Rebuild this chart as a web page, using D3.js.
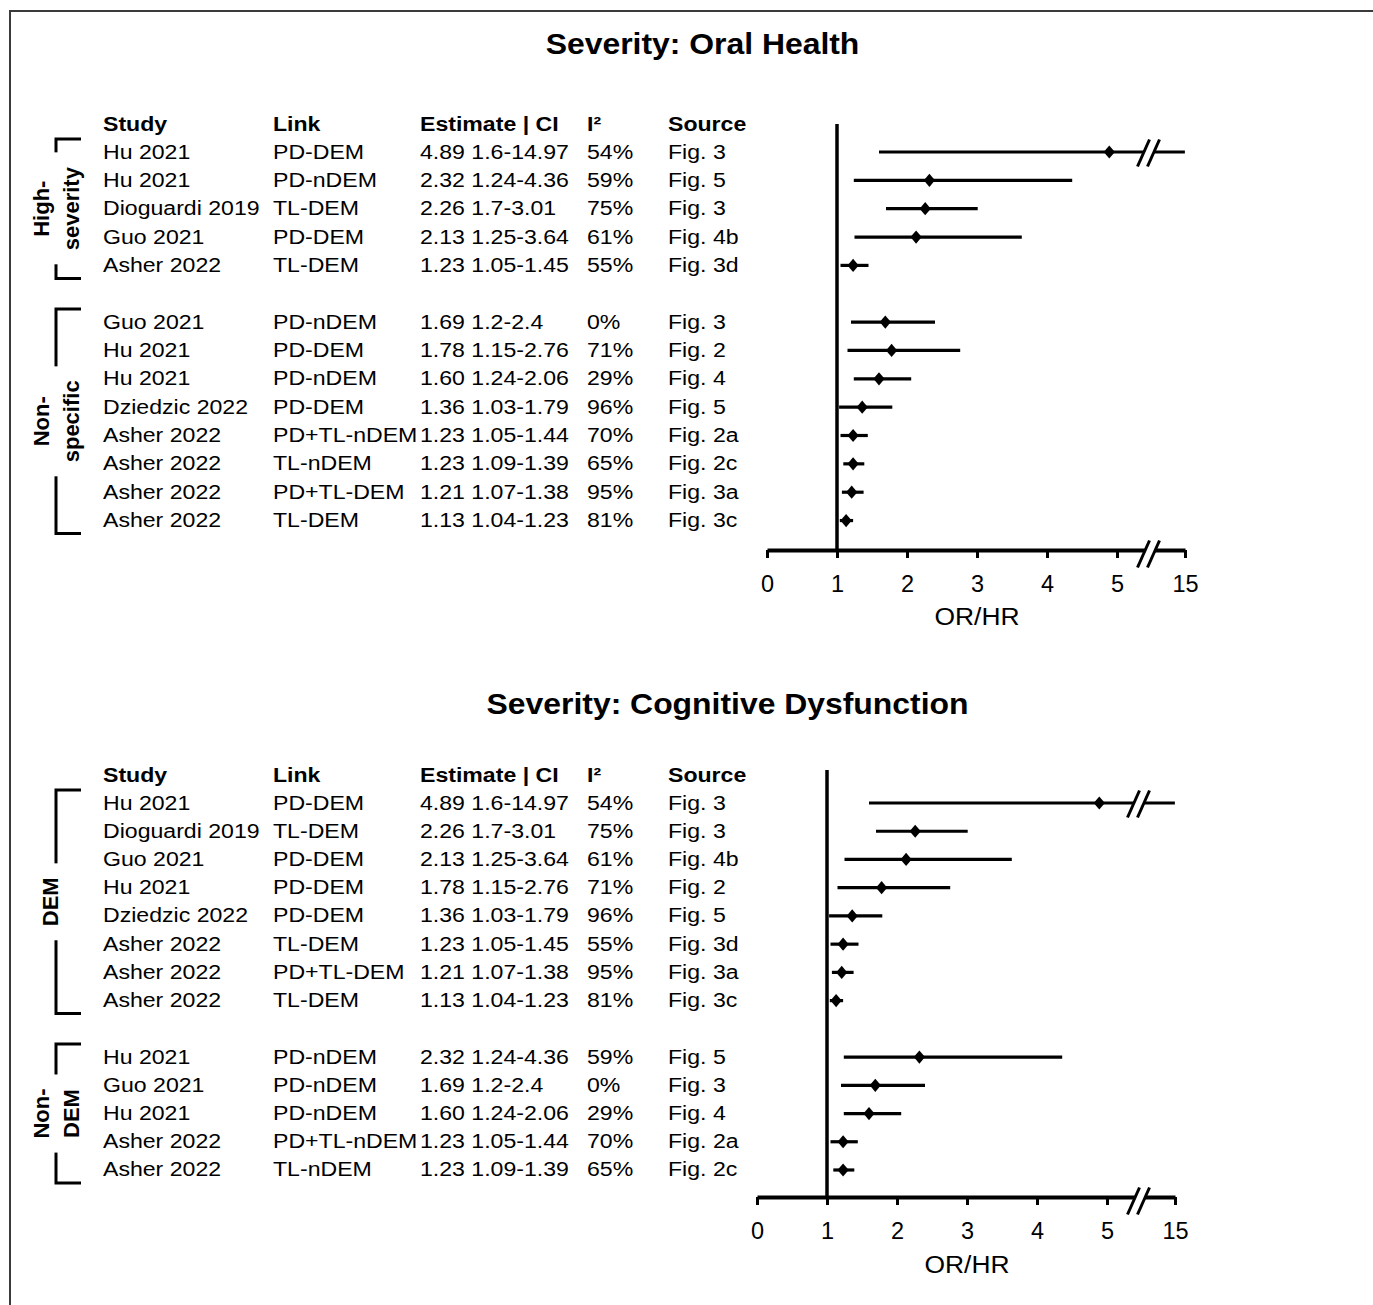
<!DOCTYPE html>
<html><head><meta charset="utf-8">
<script src="https://cdn.jsdelivr.net/npm/d3@7"></script>
<style>
body{margin:0;background:#fff}
svg{display:block}
text{font-family:"Liberation Sans",Arial,Helvetica,sans-serif;fill:#000}
</style>
</head><body>
<svg id="c" width="1373" height="1305"></svg>
<script>
// ---------- Data ----------
const oralStudy = ["Hu 2021","Hu 2021","Dioguardi 2019","Guo 2021","Asher 2022","Guo 2021","Hu 2021","Hu 2021","Dziedzic 2022","Asher 2022","Asher 2022","Asher 2022","Asher 2022"];
const oralLink = ["PD-DEM","PD-nDEM","TL-DEM","PD-DEM","TL-DEM","PD-nDEM","PD-DEM","PD-nDEM","PD-DEM","PD+TL-nDEM","TL-nDEM","PD+TL-DEM","TL-DEM"];
const oralEstimate = [4.89,2.32,2.26,2.13,1.23,1.69,1.78,1.60,1.36,1.23,1.23,1.21,1.13];
const oralLower = [1.6,1.24,1.7,1.25,1.05,1.2,1.15,1.24,1.03,1.05,1.09,1.07,1.04];
const oralUpper = [14.97,4.36,3.01,3.64,1.45,2.4,2.76,2.06,1.79,1.44,1.39,1.38,1.23];
const oralI2 = [54,59,75,61,55,0,71,29,96,70,65,95,81];
const oralSource = ["Fig. 3","Fig. 5","Fig. 3","Fig. 4b","Fig. 3d","Fig. 3","Fig. 2","Fig. 4","Fig. 5","Fig. 2a","Fig. 2c","Fig. 3a","Fig. 3c"];
const oralGroups = [["High-","severity"],["Non-","specific"]];
const oralGroupSizes = [5,8];

const cogStudy = ["Hu 2021","Dioguardi 2019","Guo 2021","Hu 2021","Dziedzic 2022","Asher 2022","Asher 2022","Asher 2022","Hu 2021","Guo 2021","Hu 2021","Asher 2022","Asher 2022"];
const cogLink = ["PD-DEM","TL-DEM","PD-DEM","PD-DEM","PD-DEM","TL-DEM","PD+TL-DEM","TL-DEM","PD-nDEM","PD-nDEM","PD-nDEM","PD+TL-nDEM","TL-nDEM"];
const cogEstimate = [4.89,2.26,2.13,1.78,1.36,1.23,1.21,1.13,2.32,1.69,1.60,1.23,1.23];
const cogLower = [1.6,1.7,1.25,1.15,1.03,1.05,1.07,1.04,1.24,1.2,1.24,1.05,1.09];
const cogUpper = [14.97,3.01,3.64,2.76,1.79,1.45,1.38,1.23,4.36,2.4,2.06,1.44,1.39];
const cogI2 = [54,75,61,71,96,55,95,81,59,0,29,70,65];
const cogSource = ["Fig. 3","Fig. 3","Fig. 4b","Fig. 2","Fig. 5","Fig. 3d","Fig. 3a","Fig. 3c","Fig. 5","Fig. 3","Fig. 4","Fig. 2a","Fig. 2c"];
const cogGroups = [["DEM"],["Non-","DEM"]];
const cogGroupSizes = [8,5];

const headers = ["Study","Link","Estimate | CI","I\u00B2","Source"];
const axisTicks = [0,1,2,3,4,5,15];
const axisBreak = 5.45;
const axisMax = 15;
const axisTitle = "OR/HR";

// ---------- Drawing ----------
const svg = d3.select("#c");
svg.append("rect").attr("x",10).attr("y",11).attr("width",1500).attr("height",1500)
  .attr("fill","none").attr("stroke","#3a3a3a").attr("stroke-width",2);

const colX = [103, 273, 420, 587, 668];
const SX = 1.1;

function txt(g, x, y, s, size, bold, anchor){
  return g.append("text")
    .attr("transform",`translate(${x},${y}) scale(${SX},1)`)
    .attr("font-size",size)
    .attr("font-weight",bold?"bold":"normal")
    .attr("text-anchor",anchor||"start")
    .text(s);
}

const diamond = {
  draw(ctx, size){
    const w = 5.6, h = 6.6;
    ctx.moveTo(0,-h); ctx.lineTo(w,0); ctx.lineTo(0,h); ctx.lineTo(-w,0); ctx.closePath();
  }
};

function breakMark(g, cx, cy){
  const dx = 6, dy = 13.5, sep = 10;
  const a = cx - sep/2, b = cx + sep/2;
  g.append("path")
    .attr("d",`M${a-dx},${cy+dy}L${a+dx},${cy-dy}L${b+dx},${cy-dy}L${b-dx},${cy+dy}Z`)
    .attr("fill","#fff");
  [a,b].forEach(c=>{
    g.append("line").attr("x1",c-dx).attr("y1",cy+dy).attr("x2",c+dx).attr("y2",cy-dy)
      .attr("stroke","#000").attr("stroke-width",3);
  });
}

function panel(cfg){
  const g = svg.append("g");
  const n = cfg.study.length;
  const rowIdx = [];
  let k = 0;
  cfg.groupSizes.forEach((sz)=>{
    for(let i=0;i<sz;i++) rowIdx.push(k++);
    k++;
  });
  const y = d3.scaleLinear().domain([0,1]).range([cfg.rowY0, cfg.rowY0 + cfg.rowStep]);
  const x = d3.scaleLinear().domain([0, axisBreak, axisMax])
    .range([cfg.x0, cfg.x0 + axisBreak*cfg.unit, cfg.x0 + cfg.span]);

  txt(g, cfg.titleX, cfg.titleY, cfg.title, 29, true, "middle");

  headers.forEach((h,i)=> txt(g, colX[i], cfg.rowY0 - 21, h, 21, true));

  for(let i=0;i<n;i++){
    const yy = y(rowIdx[i]) + 6.5;
    txt(g, colX[0], yy, cfg.study[i], 21, false);
    txt(g, colX[1], yy, cfg.link[i], 21, false);
    txt(g, colX[2], yy, `${cfg.est[i].toFixed(2)} ${cfg.lo[i]}-${cfg.hi[i]}`, 21, false);
    txt(g, colX[3], yy, `${cfg.i2[i]}%`, 21, false);
    txt(g, colX[4], yy, cfg.src[i], 21, false);
  }

  let start = 0;
  cfg.groupSizes.forEach((sz,gi)=>{
    const top = y(rowIdx[start]) - 13;
    const bot = y(rowIdx[start+sz-1]) + 13;
    const bx = 56, tx = 81;
    g.append("path").attr("d",`M${tx},${top}H${bx}V${bot}H${tx}`)
      .attr("fill","none").attr("stroke","#000").attr("stroke-width",3);
    const mid = (top+bot)/2;
    const lg = g.append("g").attr("transform",`translate(${bx},${mid}) rotate(-90)`);
    const bg = lg.append("rect").attr("fill","#fff");
    const lines = cfg.groups[gi];
    const offs = lines.length === 2 ? [-7, 23] : [2];
    const tg = lg.append("g");
    lines.forEach((l,li)=>{
      tg.append("text").attr("x",0).attr("y",offs[li]).attr("text-anchor","middle")
        .attr("font-size",22).attr("font-weight","bold").text(l);
    });
    const bb = tg.node().getBBox();
    bg.attr("x",bb.x-14).attr("width",bb.width+28).attr("y",-5).attr("height",10);
    start += sz;
  });

  g.append("line").attr("x1",x(1)).attr("x2",x(1)).attr("y1",cfg.vTop).attr("y2",cfg.axisY)
    .attr("stroke","#000").attr("stroke-width",3.5);

  for(let i=0;i<n;i++){
    const yy = y(rowIdx[i]);
    g.append("line").attr("x1",x(cfg.lo[i])).attr("x2",x(cfg.hi[i])).attr("y1",yy).attr("y2",yy)
      .attr("stroke","#000").attr("stroke-width",3.2);
    if(cfg.hi[i] > axisBreak) breakMark(g, x(axisBreak), yy+1);
    g.append("path").attr("d", d3.symbol().type(diamond).size(64)())
      .attr("transform",`translate(${x(cfg.est[i])},${yy})`).attr("fill","#000");
  }

  const ax = g.append("g").attr("transform",`translate(0,${cfg.axisY})`)
    .call(d3.axisBottom(x).tickValues(axisTicks).tickFormat(d3.format("d"))
      .tickSize(8).tickSizeOuter(0).tickPadding(17));
  ax.select(".domain").attr("stroke","#000").attr("stroke-width",4);
  ax.selectAll(".tick line").attr("stroke","#000").attr("stroke-width",3);
  ax.selectAll(".tick text").attr("font-size",23.5).attr("font-family","Liberation Sans, Arial, sans-serif").attr("fill","#000");
  breakMark(g, x(axisBreak), cfg.axisY + 4);
  txt(g, x(3), cfg.axisY + cfg.titleOff, axisTitle, 24, false, "middle");
}

panel({
  title:"Severity: Oral Health", titleX:702.5, titleY:54,
  study:oralStudy, link:oralLink, est:oralEstimate, lo:oralLower, hi:oralUpper, i2:oralI2, src:oralSource,
  groups:oralGroups, groupSizes:oralGroupSizes,
  rowY0:152, rowStep:28.35, x0:767, unit:70, span:418, vTop:124, axisY:550, titleOff:75
});
panel({
  title:"Severity: Cognitive Dysfunction", titleX:727.5, titleY:714,
  study:cogStudy, link:cogLink, est:cogEstimate, lo:cogLower, hi:cogUpper, i2:cogI2, src:cogSource,
  groups:cogGroups, groupSizes:cogGroupSizes,
  rowY0:803, rowStep:28.23, x0:757, unit:70, span:418, vTop:770, axisY:1197, titleOff:76
});
</script>
</body></html>
